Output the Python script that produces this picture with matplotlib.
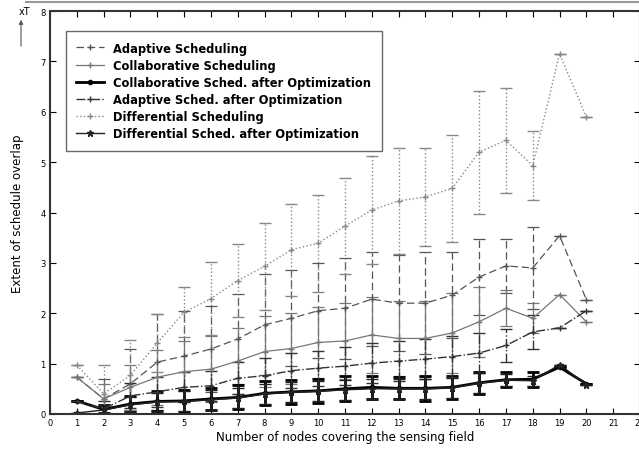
import numpy as np
import matplotlib
matplotlib.use("Agg")
from matplotlib import pyplot as plt
from matplotlib.lines import Line2D

# nodes covering the field
nodes = list(range(1, 21))

adapt_sched = [0.73, 0.30, 0.60, 1.03, 1.15, 1.29, 1.49, 1.77, 1.90, 2.05,
               2.10, 2.28, 2.20, 2.20, 2.36, 2.72, 2.94, 2.90, 3.54, 2.27]
adapt_err = [0.0, 0.40, 0.70, 0.95, 0.90, 0.85, 0.90, 1.00, 0.95, 0.94,
             1.00, 0.93, 0.95, 1.01, 0.85, 0.75, 0.53, 0.82, 0.0, 0.0]

collab_sched = [0.73, 0.30, 0.53, 0.73, 0.84, 0.89, 1.05, 1.24, 1.30, 1.42,
                1.45, 1.57, 1.50, 1.50, 1.61, 1.83, 2.10, 1.90, 2.37, 1.83]
collab_err = [0.0, 0.30, 0.45, 0.55, 0.60, 0.65, 0.65, 0.70, 0.70, 0.70,
              0.75, 0.75, 0.75, 0.75, 0.80, 0.70, 0.36, 0.30, 0.0, 0.0]

collab_opt = [0.26, 0.09, 0.20, 0.25, 0.26, 0.30, 0.33, 0.41, 0.44, 0.46,
              0.50, 0.53, 0.51, 0.51, 0.53, 0.62, 0.68, 0.69, 0.93, 0.60]
collab_opt_err = [0.0, 0.08, 0.15, 0.20, 0.22, 0.22, 0.24, 0.24, 0.24, 0.24,
                  0.25, 0.23, 0.22, 0.25, 0.23, 0.22, 0.15, 0.15, 0.0, 0.0]

adapt_opt = [0.25, 0.10, 0.36, 0.44, 0.53, 0.56, 0.71, 0.76, 0.86, 0.91,
             0.95, 1.01, 1.05, 1.09, 1.14, 1.21, 1.36, 1.63, 1.71, 2.05]
adapt_opt_err = [0.0, 0.15, 0.25, 0.30, 0.30, 0.30, 0.32, 0.35, 0.35, 0.35,
                 0.38, 0.40, 0.40, 0.40, 0.40, 0.40, 0.33, 0.33, 0.0, 0.0]

diff_sched = [0.97, 0.40, 0.77, 1.41, 2.02, 2.29, 2.65, 2.93, 3.26, 3.39,
              3.73, 4.05, 4.23, 4.31, 4.48, 5.20, 5.43, 4.93, 7.15, 5.90]
diff_err = [0.0, 0.58, 0.70, 0.58, 0.50, 0.73, 0.72, 0.86, 0.91, 0.96,
            0.95, 1.08, 1.05, 0.97, 1.06, 1.22, 1.05, 0.68, 0.0, 0.0]

diff_opt = [0.02, 0.08, 0.18, 0.24, 0.25, 0.28, 0.32, 0.40, 0.43, 0.45,
            0.48, 0.50, 0.50, 0.50, 0.52, 0.61, 0.67, 0.66, 0.98, 0.58]
diff_opt_err = [0.0, 0.10, 0.15, 0.18, 0.20, 0.20, 0.20, 0.20, 0.20, 0.20,
                0.20, 0.20, 0.20, 0.20, 0.20, 0.20, 0.12, 0.10, 0.0, 0.0]

labels = ['Adaptive Scheduling', 'Collaborative Scheduling',
          'Collaborative Sched. after Optimization', 'Adaptive Sched. after Optimization',
          'Differential Scheduling', 'Differential Sched. after Optimization']

fig = plt.figure(figsize=(6.39, 4.52), dpi=100)
ax = fig.add_axes([50 / 639, 37 / 452, 590 / 639, 403 / 452])

series = [
    (adapt_sched, adapt_err, (0, (6, 3)), '#555555', 0.9, '+', 5),
    (collab_sched, collab_err, '-', '#777777', 0.9, '+', 5),
    (collab_opt, collab_opt_err, '-', '#000000', 2.0, '.', 6),
    (adapt_opt, adapt_opt_err, '-.', '#333333', 1.0, '+', 5),
    (diff_sched, diff_err, ':', '#888888', 1.0, '+', 5),
    (diff_opt, diff_opt_err, '-', '#222222', 1.0, '*', 5),
]

handles = []
for (vals, err, ls, col, lw, mk, ms), lab in zip(series, labels):
    eb = ax.errorbar(nodes, vals, yerr=err, color=col, linestyle=ls, linewidth=lw,
                     marker=mk, markersize=ms, capsize=4, elinewidth=lw,
                     capthick=lw)
    eb[2][0].set_linestyle(ls)
    handles.append(Line2D([], [], color=col, linestyle=ls, linewidth=lw,
                          marker=mk, markersize=ms, label=lab))

ax.set_xlim(0, 22)
ax.set_ylim(0, 8)
ax.set_xticks(range(0, 23))
ax.set_yticks(range(0, 9))
ax.tick_params(direction='in', top=True, right=True, labelsize=6, length=4, pad=3)
for sp in ax.spines.values():
    sp.set_linewidth(1.5)
    sp.set_color('#333333')

ax.set_xlabel('Number of nodes covering the sensing field', fontsize=8.5, labelpad=2)
ax.set_ylabel('Extent of schedule overlap', fontsize=8.5, labelpad=12)

leg = ax.legend(handles=handles, loc='upper left', bbox_to_anchor=(0.027, 0.95),
                prop={'weight': 'bold', 'size': 8.3},
                frameon=True, fancybox=False, edgecolor='#444444', handlelength=2.4,
                labelspacing=0.36, borderpad=0.9, borderaxespad=0.0)
leg.get_frame().set_linewidth(1.0)

# unit marker at the top left of the y axis
fig.text(25 / 639, 1 - 12 / 452, 'xT', fontsize=7, ha='center', va='center')
ax.annotate('', xy=(21 / 639, 1 - 18 / 452), xytext=(21 / 639, 1 - 50 / 452),
            xycoords='figure fraction', textcoords='figure fraction',
            arrowprops=dict(arrowstyle='-|>', color='#555555', lw=0.8, mutation_scale=6))
fig.add_artist(Line2D([0.04, 1.0], [1 - 3 / 452, 1 - 3 / 452], color='#999999', lw=1.5))

plt.savefig('out.png', dpi=100)
